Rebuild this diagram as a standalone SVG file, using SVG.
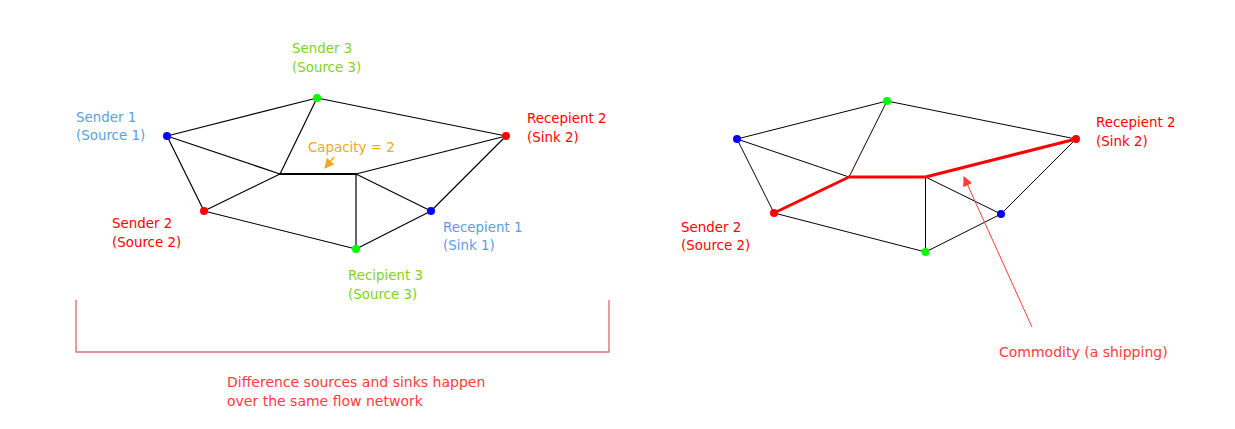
<svg xmlns="http://www.w3.org/2000/svg" width="1235" height="429" viewBox="0 0 1235 429">
<style>
text{font-family:"DejaVu Sans","Liberation Sans",sans-serif;font-size:13.4px}
.e{stroke:#000;stroke-width:1.2;fill:none;stroke-linecap:round}
.e2{stroke:#000;stroke-width:1;fill:none;stroke-linecap:round}
.hot{stroke:#f00;stroke-width:3;fill:none;stroke-linecap:round;stroke-linejoin:round}
.g{fill:#7ed321}.b{fill:#5a9ee6}.r{fill:#f00}.o{fill:#f5a623}.lr{fill:#ff3b3b;font-size:14px}
.nb{fill:#00f}.ng{fill:#0f0}.nr{fill:#f00}
</style>
<defs>
<marker id="ao" viewBox="0 0 10 10" refX="9" refY="5" markerWidth="10" markerHeight="10" markerUnits="userSpaceOnUse" orient="auto"><path d="M0,0 L10,5 L0,10 z" fill="#f5a623"/></marker>
<marker id="ar" viewBox="0 0 10 10" refX="9" refY="5" markerWidth="10" markerHeight="10" markerUnits="userSpaceOnUse" orient="auto"><path d="M0,0 L10,5 L0,10 z" fill="#ff3b3b"/></marker>
</defs>
<g id="connectors">
<g id="left-edges" class="e">
<line x1="167" y1="136" x2="317" y2="98"/>
<line x1="167" y1="136" x2="280" y2="174"/>
<line x1="167" y1="136" x2="204" y2="211"/>
<line x1="317" y1="98" x2="280" y2="174"/>
<line x1="317" y1="98" x2="506" y2="136"/>
<line x1="280" y1="174" x2="356" y2="174" stroke-width="2.2"/>
<line x1="280" y1="174" x2="204" y2="211"/>
<line x1="356" y1="174" x2="506" y2="136"/>
<line x1="356" y1="174" x2="431" y2="211"/>
<line x1="356" y1="174" x2="356" y2="249"/>
<line x1="204" y1="211" x2="356" y2="249"/>
<line x1="356" y1="249" x2="431" y2="211"/>
<line x1="431" y1="211" x2="506" y2="136"/>
</g>
<g id="right-edges" class="e2">
<line x1="737" y1="139" x2="887" y2="101"/>
<line x1="737" y1="139" x2="849" y2="177"/>
<line x1="737" y1="139" x2="774" y2="213"/>
<line x1="887" y1="101" x2="849" y2="177"/>
<line x1="887" y1="101" x2="1076" y2="139"/>
<line x1="925.5" y1="177" x2="1001" y2="214"/>
<line x1="925.5" y1="177" x2="925.5" y2="252"/>
<line x1="774" y1="213" x2="925.5" y2="252"/>
<line x1="925.5" y1="252" x2="1001" y2="214"/>
<line x1="1001" y1="214" x2="1076" y2="139"/>
</g>
<polyline id="commodity-path" class="hot" points="774,213 849,177 925.5,177 1076,139"/>
<line id="capacity-arrow" x1="334" y1="157" x2="325" y2="168" stroke="#f5a623" stroke-width="1.5" marker-end="url(#ao)"/>
<line id="commodity-arrow" x1="1032" y1="327" x2="964" y2="177" stroke="#ff3b3b" stroke-width="1" marker-end="url(#ar)"/>
<path id="bracket" d="M76,300 V352 H609 V300" fill="none" stroke="#e0707c" stroke-width="1.4"/>
</g>
<g id="sender1"><circle cx="167" cy="136" r="4" class="nb"/><text class="b" x="76" y="122">Sender 1</text><text class="b" x="76" y="140">(Source 1)</text></g>
<g id="sender3"><circle cx="317" cy="98" r="4" class="ng"/><text class="g" x="292" y="53">Sender 3</text><text class="g" x="292" y="72">(Source 3)</text></g>
<g id="capacity-label"><text class="o" x="308" y="152">Capacity = 2</text></g>
<g id="sender2"><circle cx="204" cy="211" r="4" class="nr"/><text class="r" x="112" y="228">Sender 2</text><text class="r" x="112" y="247">(Source 2)</text></g>
<g id="recepient2"><circle cx="506" cy="136" r="4" class="nr"/><text class="r" x="527" y="123">Recepient 2</text><text class="r" x="527" y="142">(Sink 2)</text></g>
<g id="recepient1"><circle cx="431" cy="211" r="4" class="nb"/><text class="b" x="443" y="232">Recepient 1</text><text class="b" x="443" y="250">(Sink 1)</text></g>
<g id="recipient3"><circle cx="356" cy="249" r="4" class="ng"/><text class="g" x="348" y="280">Recipient 3</text><text class="g" x="348" y="299">(Source 3)</text></g>
<g id="r-sender1"><circle cx="737" cy="139" r="4" class="nb"/></g>
<g id="r-sender3"><circle cx="887" cy="101" r="4" class="ng"/></g>
<g id="r-sender2"><circle cx="774" cy="213" r="4" class="nr"/><text class="r" x="681" y="232">Sender 2</text><text class="r" x="681" y="250">(Source 2)</text></g>
<g id="r-recepient2"><circle cx="1076" cy="139" r="4" class="nr"/><text class="r" x="1096" y="127">Recepient 2</text><text class="r" x="1096" y="146">(Sink 2)</text></g>
<g id="r-recepient1"><circle cx="1001" cy="214" r="4" class="nb"/></g>
<g id="r-recipient3"><circle cx="925.5" cy="252" r="4" class="ng"/></g>
<g id="commodity-label"><text class="lr" x="999" y="357">Commodity (a shipping)</text></g>
<g id="bracket-label"><text class="lr" x="227" y="387">Difference sources and sinks happen</text><text class="lr" x="227" y="406">over the same flow network</text></g>
</svg>
